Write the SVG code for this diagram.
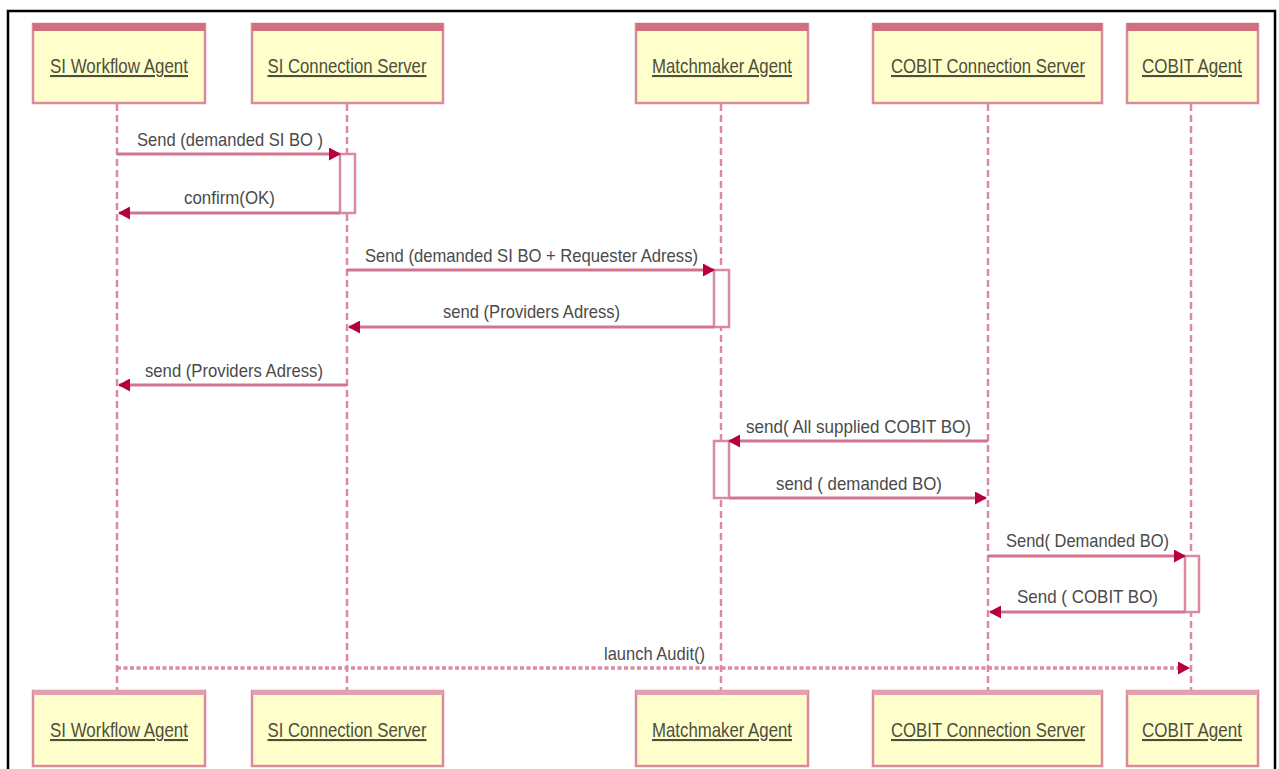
<svg xmlns="http://www.w3.org/2000/svg" width="1279" height="769" viewBox="0 0 1279 769">
<style>
.box{fill:#ffffcc;stroke:#d98a9c;stroke-width:2.5}
.band{fill:#d0707e}
.bandl{fill:#e2a0b0}
.life{stroke:#dc8aa4;stroke-width:2.5;stroke-dasharray:7 4;fill:none}
.act{fill:#ffffff;stroke:#d98a9c;stroke-width:2.5}
.msg{stroke:#d27490;stroke-width:3;fill:none;marker-end:url(#ah)}
.dot{stroke:#dc8aa4;stroke-width:3.5;stroke-dasharray:4 2.5;fill:none;marker-end:url(#ah)}
.nl{font-family:"Liberation Sans",Arial,sans-serif;font-size:21px;fill:#4e4e3c;text-decoration:underline;text-anchor:middle}
.ml{font-family:"Liberation Sans",Arial,sans-serif;font-size:19px;fill:#4a4a4a}
</style>
<defs>
<marker id="ah" markerUnits="userSpaceOnUse" markerWidth="12" markerHeight="13" refX="11" refY="6.5" orient="auto" viewBox="0 0 12 13">
<path d="M0,0 L12,6.5 L0,13 z" fill="#b5003a"/>
</marker>
</defs>
<rect x="0" y="0" width="1279" height="769" fill="#ffffff"/>
<g id="frame" fill="none" stroke="#000" stroke-width="2.5">
<path d="M8,769 L8,11 L1275,11 L1275,769"/>
</g>
<g id="lifelines">
<line class="life" x1="117" y1="104" x2="117" y2="690"/>
<line class="life" x1="347" y1="104" x2="347" y2="690"/>
<line class="life" x1="721" y1="104" x2="721" y2="690"/>
<line class="life" x1="988" y1="104" x2="988" y2="690"/>
<line class="life" x1="1191" y1="104" x2="1191" y2="690"/>
</g>
<g id="activations">
<rect class="act" x="340" y="154" width="15" height="59"/>
<rect class="act" x="714" y="270" width="15" height="57"/>
<rect class="act" x="714" y="441" width="15" height="57"/>
<rect class="act" x="1185" y="556" width="14" height="56"/>
</g>
<g id="connectors">
<line class="msg" x1="117" y1="154" x2="340" y2="154"/>
<line class="msg" x1="340" y1="213" x2="119" y2="213"/>
<line class="msg" x1="347" y1="270" x2="714" y2="270"/>
<line class="msg" x1="714" y1="327" x2="349" y2="327"/>
<line class="msg" x1="347" y1="385" x2="119" y2="385"/>
<line class="msg" x1="988" y1="441" x2="729" y2="441"/>
<line class="msg" x1="729" y1="498" x2="986" y2="498"/>
<line class="msg" x1="988" y1="556" x2="1185" y2="556"/>
<line class="msg" x1="1185" y1="612" x2="990" y2="612"/>
<line class="dot" x1="117" y1="668" x2="1189" y2="668"/>
<text class="ml" x="137" y="146" textLength="186" lengthAdjust="spacingAndGlyphs">Send (demanded SI BO )</text>
<text class="ml" x="184" y="204" textLength="91" lengthAdjust="spacingAndGlyphs">confirm(OK)</text>
<text class="ml" x="365" y="262" textLength="333" lengthAdjust="spacingAndGlyphs">Send (demanded SI BO + Requester Adress)</text>
<text class="ml" x="443" y="318" textLength="177" lengthAdjust="spacingAndGlyphs">send (Providers Adress)</text>
<text class="ml" x="145" y="377" textLength="178" lengthAdjust="spacingAndGlyphs">send (Providers Adress)</text>
<text class="ml" x="746" y="433" textLength="225" lengthAdjust="spacingAndGlyphs">send( All supplied COBIT BO)</text>
<text class="ml" x="776" y="490" textLength="166" lengthAdjust="spacingAndGlyphs">send ( demanded BO)</text>
<text class="ml" x="1006" y="547" textLength="163" lengthAdjust="spacingAndGlyphs">Send( Demanded BO)</text>
<text class="ml" x="1017" y="603" textLength="141" lengthAdjust="spacingAndGlyphs">Send ( COBIT BO)</text>
<text class="ml" x="604" y="660" textLength="101" lengthAdjust="spacingAndGlyphs">launch Audit()</text>
</g>
<g id="top-si-workflow-agent">
<rect class="box" x="33" y="24" width="172" height="79"/><rect class="band" x="33" y="23" width="172" height="8"/>
<text class="nl" x="119" y="73" textLength="138" lengthAdjust="spacingAndGlyphs">SI Workflow Agent</text>
</g>
<g id="top-si-connection-server">
<rect class="box" x="252" y="24" width="191" height="79"/><rect class="band" x="252" y="23" width="191" height="8"/>
<text class="nl" x="347" y="73" textLength="159" lengthAdjust="spacingAndGlyphs">SI Connection Server</text>
</g>
<g id="top-matchmaker-agent">
<rect class="box" x="636" y="24" width="172" height="79"/><rect class="band" x="636" y="23" width="172" height="8"/>
<text class="nl" x="722" y="73" textLength="140" lengthAdjust="spacingAndGlyphs">Matchmaker Agent</text>
</g>
<g id="top-cobit-connection-server">
<rect class="box" x="873" y="24" width="229" height="79"/><rect class="band" x="873" y="23" width="229" height="8"/>
<text class="nl" x="988" y="73" textLength="194" lengthAdjust="spacingAndGlyphs">COBIT Connection Server</text>
</g>
<g id="top-cobit-agent">
<rect class="box" x="1127" y="24" width="131" height="79"/><rect class="band" x="1127" y="23" width="131" height="8"/>
<text class="nl" x="1192" y="73" textLength="100" lengthAdjust="spacingAndGlyphs">COBIT Agent</text>
</g>
<g id="bottom-si-workflow-agent">
<rect class="box" x="33" y="691" width="172" height="75"/><rect class="bandl" x="33" y="690" width="172" height="5"/>
<text class="nl" x="119" y="737" textLength="138" lengthAdjust="spacingAndGlyphs">SI Workflow Agent</text>
</g>
<g id="bottom-si-connection-server">
<rect class="box" x="252" y="691" width="191" height="75"/><rect class="bandl" x="252" y="690" width="191" height="5"/>
<text class="nl" x="347" y="737" textLength="159" lengthAdjust="spacingAndGlyphs">SI Connection Server</text>
</g>
<g id="bottom-matchmaker-agent">
<rect class="box" x="636" y="691" width="172" height="75"/><rect class="bandl" x="636" y="690" width="172" height="5"/>
<text class="nl" x="722" y="737" textLength="140" lengthAdjust="spacingAndGlyphs">Matchmaker Agent</text>
</g>
<g id="bottom-cobit-connection-server">
<rect class="box" x="873" y="691" width="229" height="75"/><rect class="bandl" x="873" y="690" width="229" height="5"/>
<text class="nl" x="988" y="737" textLength="194" lengthAdjust="spacingAndGlyphs">COBIT Connection Server</text>
</g>
<g id="bottom-cobit-agent">
<rect class="box" x="1127" y="691" width="131" height="75"/><rect class="bandl" x="1127" y="690" width="131" height="5"/>
<text class="nl" x="1192" y="737" textLength="100" lengthAdjust="spacingAndGlyphs">COBIT Agent</text>
</g>
</svg>
